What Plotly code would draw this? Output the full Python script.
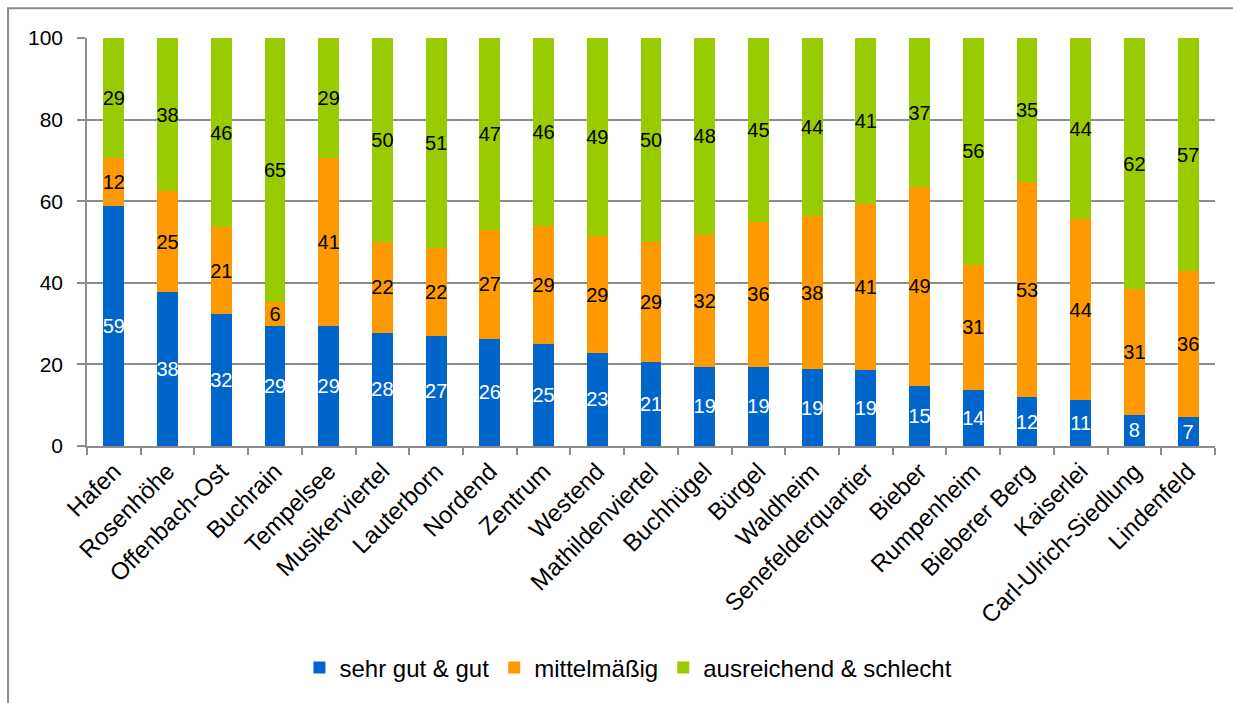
import plotly.graph_objects as go

# Stadtteile (in Reihenfolge des Anteils "sehr gut & gut")
stadtteile = [
    "Hafen", "Rosenhöhe", "Offenbach-Ost", "Buchrain", "Tempelsee",
    "Musikerviertel", "Lauterborn", "Nordend", "Zentrum", "Westend",
    "Mathildenviertel", "Buchhügel", "Bürgel", "Waldheim",
    "Senefelderquartier", "Bieber", "Rumpenheim", "Bieberer Berg",
    "Kaiserlei", "Carl-Ulrich-Siedlung", "Lindenfeld",
]

# Anteile in Prozent
sehr_gut_gut = [58.9, 37.8, 32.3, 29.4, 29.4, 27.8, 27.0, 26.3, 25.0, 22.8,
                20.6, 19.4, 19.4, 18.8, 18.6, 14.8, 13.8, 11.9, 11.2, 7.6, 7.1]
mittelmaessig = [11.8, 24.6, 21.3, 6.0, 41.3, 22.2, 21.6, 26.6, 28.9, 28.6,
                 29.4, 32.4, 35.6, 37.6, 40.6, 48.6, 30.6, 52.7, 44.4, 30.8, 35.7]
ausreichend_schlecht = [29.3, 37.6, 46.4, 64.6, 29.3, 50.0, 51.4, 47.1, 46.1, 48.6,
                        50.0, 48.2, 45.0, 43.6, 40.8, 36.6, 55.6, 35.4, 44.4, 61.6, 57.2]

y_ticks = [0, 20, 40, 60, 80, 100]

FONT = "Arial, 'Liberation Sans', sans-serif"
GRID = "#8c8c8c"

series = [
    ("sehr gut & gut", sehr_gut_gut, "#0066CC", "white"),
    ("mittelmäßig", mittelmaessig, "#FF9900", "black"),
    ("ausreichend & schlecht", ausreichend_schlecht, "#99CC00", "black"),
]

fig = go.Figure()
for name, values, color, txtcolor in series:
    fig.add_trace(go.Bar(
        x=stadtteile,
        y=values,
        name=name,
        marker=dict(color=color, line=dict(width=0)),
        texttemplate="%{y:.0f}",
        textposition="inside",
        insidetextanchor="middle",
        textangle=0,
        constraintext="none",
        textfont=dict(family=FONT, size=20, color=txtcolor),
        hoverinfo="x+y+name",
    ))

fig.update_layout(
    barmode="stack",
    bargap=0.61,
    width=1233,
    height=703,
    margin=dict(l=87, r=18, t=38, b=255),
    paper_bgcolor="white",
    plot_bgcolor="white",
    font=dict(family=FONT, size=21, color="black"),
    uniformtext=dict(minsize=20, mode="show"),
    legend=dict(
        orientation="h",
        x=0.48, xanchor="center",
        y=-0.544, yanchor="middle",
        font=dict(family=FONT, size=24, color="black"),
        traceorder="normal",
        itemclick=False,
    ),
    xaxis=dict(
        tickangle=-45,
        tickfont=dict(family=FONT, size=24, color="black"),
        showline=True, linecolor=GRID, linewidth=1.5,
        ticks="outside", ticklen=7, tickcolor=GRID, tickwidth=1.5,
        tickson="boundaries",
        showgrid=False,
        automargin=False,
    ),
    yaxis=dict(
        range=[0, 100],
        tickvals=y_ticks,
        tickfont=dict(family=FONT, size=21, color="black"),
        showline=True, linecolor=GRID, linewidth=1.5,
        ticks="outside", ticklen=8, tickcolor=GRID, tickwidth=1.5,
        showgrid=True, gridcolor=GRID, gridwidth=1.5,
        zeroline=False,
        ticklabelstandoff=10,
        automargin=False,
    ),
    shapes=[dict(
        type="rect", xref="paper", yref="paper",
        x0=-0.070, x1=1.03, y0=-0.65, y1=1.073,
        line=dict(color="#8c8c8c", width=2),
        fillcolor="rgba(0,0,0,0)",
        layer="below",
    )],
)

fig.write_html("out.html")
